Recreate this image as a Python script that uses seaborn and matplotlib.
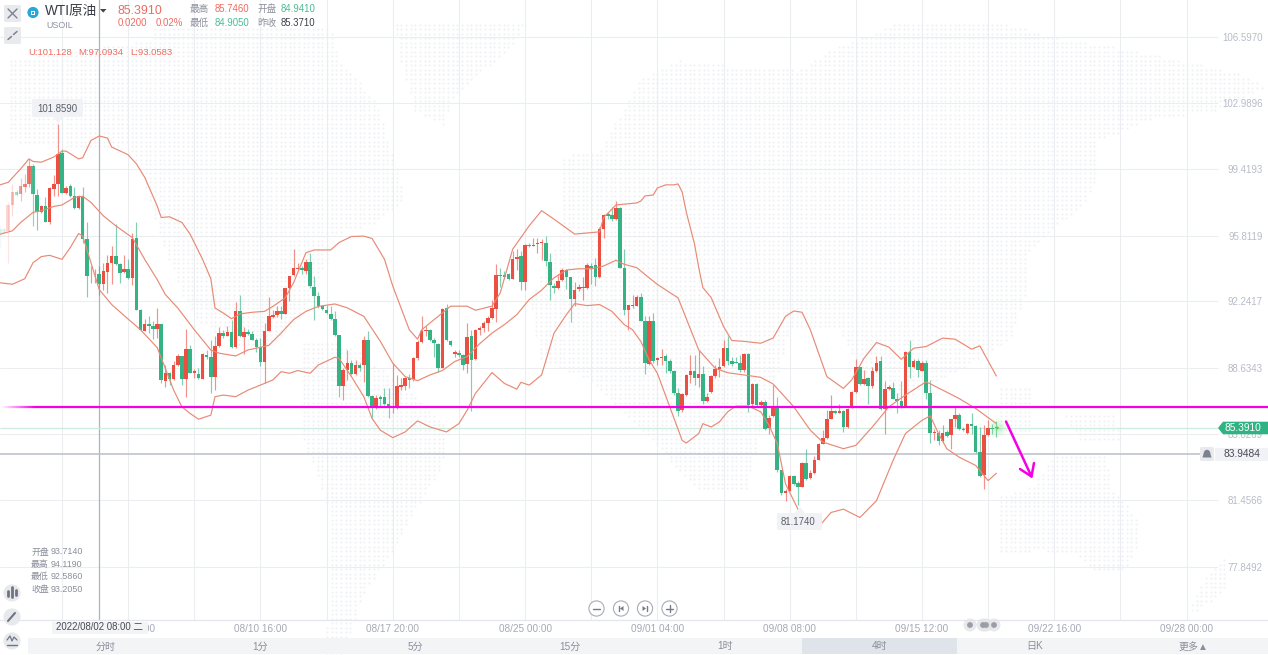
import numpy as np
import matplotlib
matplotlib.use("Agg")
import matplotlib.pyplot as plt
from matplotlib.path import Path
from matplotlib.patches import Polygon, Rectangle, Circle, FancyBboxPatch
from matplotlib.collections import LineCollection
import seaborn as sns

# ---------- data: 4h candles ----------
direction = ("ggrrgrrrgg" "rgrrrgrggr" "ggrrgrrrgg" "rgrggrggrg" "rgrrgrgrgr" "ggrrgrgrgr"
             "ggggrrrrgr" "rrrgrggggg" "gggrrgrgrg" "grgggrrrrg" "rrrrgggrgg" "rggrgrrrrr"
             "rgggrrgrgr" "rrgggrrggr" "rrrggrrggr" "ggrrrggrgr" "rggggrrrgr" "grrrrrgggg"
             "rgrgrgrrgg" "rrggrgrrrr" "rrgrgrrrgr" "grrgrrgggr" "grgrggrgrg" "rrggrgggrr" "gg")
body_top = [
 96.16,96.16,97.47,98.19,98.19,98.52,98.61,99.61,99.61,98.01,
 97.39,97.39,98.37,98.61,100.25,100.28,98.37,98.52,97.97,97.97,
 97.94,95.61,93.68,93.68,93.70,93.87,94.30,94.70,94.70,94.25,
 94.01,94.01,95.65,95.68,91.79,91.03,91.03,90.92,91.03,91.03,
 88.34,88.38,88.79,89.30,89.28,89.67,89.67,88.49,88.30,89.39,
 89.34,89.21,89.83,90.52,90.52,90.57,90.57,91.70,91.70,90.59,
 90.57,90.47,90.16,89.79,90.61,91.43,91.52,91.74,91.74,92.94,
 93.61,94.03,94.07,94.03,94.37,94.37,93.03,92.52,92.01,91.79,
 91.57,91.30,90.43,88.52,88.88,88.92,88.79,88.79,90.16,90.16,
 87.10,86.98,87.03,87.03,86.70,86.56,87.65,87.70,88.07,88.07,
 89.16,90.03,90.61,90.70,90.70,90.16,89.94,91.83,91.88,90.10,
 89.47,89.43,89.34,90.30,90.38,90.70,90.79,91.07,91.34,91.88,
 93.65,93.65,93.65,93.70,94.52,94.67,94.70,95.28,95.28,95.28,
 95.43,95.45,95.38,94.38,93.10,93.34,93.94,93.94,93.57,92.85,
 93.00,93.00,94.19,94.16,94.19,96.19,96.92,96.96,96.92,97.29,
 97.29,94.05,92.03,92.05,92.49,92.49,91.16,91.16,91.16,89.16,
 89.21,89.28,89.03,88.45,87.25,87.21,88.25,88.47,88.47,88.30,
 88.30,87.03,88.19,88.56,88.70,89.70,89.70,88.98,88.96,88.92,
 89.39,89.39,87.74,87.74,86.76,86.78,85.94,86.56,86.56,83.07,
 81.97,82.79,82.79,82.38,83.47,83.47,82.92,83.65,84.48,84.85,
 85.88,86.29,86.29,86.27,86.27,86.43,87.34,88.67,88.67,88.03,
 88.07,88.47,88.92,88.98,87.48,87.61,87.52,86.97,86.85,89.52,
 89.52,89.03,89.03,88.88,88.92,87.29,85.14,85.12,85.12,85.16,
 85.85,86.07,86.10,85.32,85.58,85.61,85.48,84.07,84.97,85.39,
 85.39,85.39]
body_bottom = [
 95.88,95.97,96.07,97.47,98.01,98.07,98.47,98.61,98.07,97.07,
 97.07,96.56,96.56,98.34,98.61,98.12,98.12,97.94,97.28,97.28,
 95.61,93.61,93.65,93.65,93.16,93.21,93.83,94.30,94.25,93.79,
 93.83,93.52,93.52,91.79,90.67,90.61,90.92,90.74,90.76,87.98,
 87.94,88.01,88.01,88.79,88.01,88.01,88.38,88.34,88.07,88.05,
 89.21,88.12,88.12,89.83,90.34,90.37,89.74,89.76,90.34,90.30,
 90.47,90.16,89.79,88.97,88.97,90.65,91.39,91.48,91.57,91.57,
 92.96,93.65,93.97,93.92,93.88,93.07,92.52,92.01,91.85,91.61,
 91.30,90.43,87.67,87.67,88.52,88.30,88.30,88.61,88.79,87.10,
 86.52,86.52,86.92,86.67,86.49,86.49,86.49,87.61,87.65,87.98,
 88.01,89.16,90.03,90.61,90.12,89.98,88.61,88.61,90.12,89.88,
 89.39,89.34,88.79,88.85,89.07,89.10,90.67,90.79,91.07,91.34,
 91.85,93.61,93.57,93.43,93.43,94.52,93.30,93.29,95.23,95.25,
 95.36,95.39,94.41,93.12,92.98,92.98,93.39,93.57,92.39,92.38,
 92.89,92.96,92.96,94.07,93.54,93.54,96.19,96.85,96.70,96.70,
 94.07,91.79,91.79,91.98,92.01,91.19,88.92,88.85,88.98,89.07,
 89.18,89.03,88.48,87.25,86.30,86.34,87.16,88.25,88.07,88.07,
 86.83,86.83,87.32,88.19,88.56,88.74,88.98,88.85,88.92,88.52,
 88.52,86.61,86.65,86.61,86.61,85.34,85.38,86.01,83.07,81.83,
 81.83,81.97,82.34,82.19,82.19,82.61,82.67,82.92,83.65,84.52,
 84.85,85.88,86.19,86.19,85.43,85.43,86.48,87.30,87.76,87.76,
 87.67,87.67,88.47,86.43,86.38,87.48,86.97,86.85,86.52,86.56,
 88.67,88.67,88.52,88.48,87.29,85.10,85.10,84.67,84.65,84.94,
 84.97,85.85,85.30,85.25,85.12,85.50,84.07,82.79,82.85,84.97,
 85.32,85.37]
high = [
 96.34,96.25,97.61,98.61,98.30,98.92,99.16,99.97,99.70,98.34,
 97.47,97.88,98.43,99.07,101.86,100.52,98.52,98.61,98.43,98.01,
 98.43,96.52,94.16,93.97,94.16,94.34,94.74,95.25,96.43,94.30,
 94.74,94.56,95.94,96.56,91.83,91.28,91.43,91.16,91.88,91.03,
 88.79,88.43,89.03,89.39,89.30,90.74,89.88,88.56,88.61,89.43,
 89.61,90.16,90.37,90.85,90.67,90.88,91.25,92.19,92.61,90.85,
 90.74,90.61,90.25,90.25,91.07,92.47,91.76,91.97,91.97,92.97,
 93.61,95.07,94.34,94.16,94.52,94.85,93.61,92.74,92.07,92.07,
 91.97,91.70,90.43,88.61,89.61,89.07,89.07,88.88,90.38,90.61,
 87.16,87.16,87.16,87.52,87.52,88.88,88.25,88.07,88.16,88.30,
 89.25,90.16,91.47,90.88,90.74,90.25,89.98,91.88,92.12,90.16,
 89.61,89.58,89.39,91.07,90.70,90.74,90.88,91.16,91.43,92.34,
 94.25,94.07,93.88,93.76,94.98,95.07,94.98,95.34,95.43,95.70,
 95.70,95.65,95.76,94.89,93.25,93.70,94.07,94.01,93.57,93.29,
 93.16,93.57,94.34,94.34,94.61,96.25,96.98,97.07,97.34,97.70,
 97.34,95.07,92.07,92.61,92.61,92.70,91.43,91.43,91.61,89.25,
 89.65,89.39,89.10,88.52,87.52,87.25,88.30,89.34,89.34,89.61,
 88.74,87.25,88.25,88.79,89.16,90.12,90.38,89.21,89.21,89.34,
 89.43,89.43,87.79,87.79,86.88,86.88,86.07,87.70,87.07,83.10,
 82.07,82.85,82.85,82.48,83.52,84.25,83.07,83.83,84.56,85.29,
 86.34,87.16,86.34,86.67,86.34,86.48,87.39,89.10,88.70,88.52,
 88.16,88.70,89.29,89.29,87.94,87.70,87.88,87.29,87.94,89.56,
 90.16,89.10,89.10,88.98,89.07,88.00,85.34,85.25,85.52,85.25,
 85.88,86.56,86.19,85.43,85.65,86.19,85.52,85.43,85.52,85.79,
 85.57,85.75]
low = [
 95.16,95.79,94.34,96.88,97.94,97.70,98.16,98.43,96.34,96.12,
 97.03,96.52,96.43,97.97,97.97,98.12,98.07,97.88,97.25,97.25,
 95.39,92.48,93.25,93.25,92.61,92.88,92.70,93.21,94.21,93.25,
 93.79,93.47,93.12,91.76,90.61,90.61,90.52,90.19,90.25,87.79,
 87.61,87.70,87.98,88.76,87.70,87.03,88.34,88.07,88.01,88.01,
 89.10,87.28,87.43,89.79,90.25,90.34,89.70,89.72,90.30,89.39,
 90.43,90.12,89.52,88.74,87.79,90.61,91.34,91.39,91.28,91.57,
 92.25,93.61,93.94,93.70,93.70,92.97,91.25,91.88,91.79,91.57,
 91.25,90.34,87.07,86.89,87.98,88.25,88.25,88.49,87.88,87.07,
 85.89,86.43,86.52,86.61,85.89,86.16,86.43,87.43,87.43,87.52,
 87.94,89.07,89.98,90.34,90.07,89.25,88.43,88.61,90.07,89.83,
 89.25,89.21,88.52,88.34,86.30,89.07,90.43,90.56,90.61,91.29,
 91.10,93.03,93.43,93.39,93.43,93.94,92.85,92.88,95.21,95.25,
 94.89,94.48,94.16,92.30,92.70,92.92,93.34,92.92,91.10,91.98,
 92.83,92.34,92.92,93.16,93.10,93.50,95.70,96.70,96.61,96.67,
 94.07,91.52,90.67,91.89,91.98,91.16,88.30,88.79,88.88,88.79,
 88.79,88.38,88.38,87.16,86.01,86.25,87.10,87.79,87.70,87.57,
 86.70,86.79,87.28,88.07,88.16,88.70,88.79,88.74,88.88,88.43,
 88.43,86.25,86.56,86.52,86.56,85.25,85.07,85.97,82.98,81.76,
 81.43,81.94,82.30,81.17,82.16,82.56,82.61,82.88,83.61,84.48,
 84.79,85.85,86.12,86.16,85.16,85.39,86.45,87.25,87.70,87.70,
 86.70,87.52,88.43,86.34,85.07,87.43,86.92,86.16,86.48,86.52,
 88.07,88.63,88.16,88.45,86.97,84.56,84.70,84.43,84.61,84.88,
 84.25,85.43,85.25,85.21,85.07,85.07,84.01,82.74,82.07,84.94,
 85.07,84.91]

upper_k = [0,2,5,7,8,10,13,15,16,19,20,22,24,26,27,30,31,33,35,38,39,41,44,46,49,51,52,54,56,58,61,64,66,69,71,72,74,76,80,
           82,85,88,90,93,95,99,101,102,104,106,109,113,115,119,121,124,128,131,134,139,145,146,149,
           154,155,156,158,159,161,163,164,165,166,168,169,170,172,175,177,180,184,187,190,192,194,196,200,204,206,209,212,215,218,221,224,228,231,235,237,241]
upper_band = [98.56,98.70,99.43,99.97,99.83,99.79,100.07,100.39,100.39,99.97,100.03,100.97,101.21,101.10,100.61,100.30,100.19,99.70,98.97,97.43,96.79,96.83,96.52,95.88,94.52,93.47,91.88,91.61,91.30,91.56,91.65,91.70,91.97,92.43,93.25,93.79,94.88,95.03,95.03,
              95.43,95.76,95.78,95.65,94.52,93.07,90.70,90.19,90.70,91.07,91.43,91.98,91.98,91.76,91.98,92.70,95.07,96.34,97.16,96.70,95.89,96.01,96.79,97.47,
              97.58,97.68,97.96,98.01,98.39,98.56,98.56,98.61,98.18,97.08,95.34,94.08,92.99,92.45,90.88,90.12,90.07,89.97,90.25,91.43,91.72,91.65,90.70,88.16,87.52,87.98,89.16,90.01,89.76,89.10,89.70,89.79,90.25,90.19,89.65,89.83,88.19]
middle_k = [0,3,5,8,10,13,15,18,20,22,25,28,32,35,38,40,43,47,51,53,57,60,62,65,68,71,74,77,81,
            84,88,92,95,98,101,104,107,110,113,116,119,122,125,128,131,134,137,140,143,146,149,151,154,156,159,
            164,169,173,176,180,184,187,192,196,199,204,207,211,215,219,224,228,232,236,241]
middle_band = [95.88,96.07,96.52,97.07,97.16,97.39,97.47,97.88,97.94,97.61,96.88,96.34,95.70,94.52,93.43,92.61,91.88,90.70,89.60,89.43,89.28,89.61,89.70,89.85,90.52,91.25,91.70,91.97,92.10,
               91.89,91.43,90.07,88.89,88.16,87.94,88.25,88.49,88.98,89.25,89.94,90.52,90.98,91.52,92.34,92.85,93.52,93.94,94.01,94.01,94.16,94.47,94.25,94.07,93.70,93.16,
               92.43,89.61,88.61,88.37,88.25,88.12,87.76,86.52,85.25,84.61,84.25,84.43,85.43,86.52,87.16,87.88,87.43,86.97,86.43,85.61]
lower_k = [0,3,6,8,10,12,15,17,19,20,22,24,27,31,34,38,40,42,44,46,48,51,52,54,57,60,63,66,68,70,72,75,77,81,
           82,85,88,90,92,95,98,101,104,108,111,113,115,119,122,125,126,128,131,134,137,139,142,145,148,151,153,155,157,159,
           162,165,166,169,170,172,174,176,178,181,184,186,188,190,193,195,198,201,204,208,212,216,219,223,225,227,229,232,236,239,241]
lower_band = [93.25,93.17,93.47,94.34,94.67,94.74,94.52,95.16,95.92,95.79,94.34,92.88,92.07,91.28,90.70,89.74,88.60,87.43,86.52,86.16,85.85,86.07,87.07,87.16,87.07,87.43,87.70,87.98,88.43,88.34,88.49,88.34,88.79,89.21,
              89.16,88.16,87.07,85.89,85.25,84.85,85.16,85.76,85.43,85.16,85.61,86.34,87.25,88.38,87.79,87.48,87.85,87.70,88.25,90.52,91.52,92.12,92.01,92.07,91.70,90.98,90.70,90.07,89.07,88.34,
              86.52,84.70,84.56,85.07,85.61,85.43,85.70,86.25,86.56,86.56,86.25,85.52,84.52,82.34,80.97,80.07,80.01,80.79,80.97,80.52,81.43,83.61,85.07,85.79,86.03,85.07,84.25,83.79,83.34,82.52,82.92]

price_ticks = [106.5970,102.9896,99.4193,95.8119,92.2417,88.6343,85.0269,81.4566,77.8492]
date_ticks = [31,63,95,127,159,191,223,255,287]
date_labels = ["08/03 12:00","08/10 16:00","08/17 20:00","08/25 00:00","09/01 04:00","09/08 08:00","09/15 12:00","09/22 16:00","09/28 00:00"]
trend_level = 86.51
last_price = 85.3910
alert_price = 83.9484
hover_k = 24

# ---------- style ----------
sns.set_theme(style="white")
plt.rcParams["font.family"] = ["Liberation Sans", "Noto Sans CJK SC", "DejaVu Sans"]
RED, GREEN = "#ea5042", "#35b384"
BAND = "#e88a75"
GRID = "#ebedf1"
TICK = "#b9bcc8"
MAG = "#f500e6"

W, H = 1268, 655
fig = plt.figure(figsize=(W/100, H/100), dpi=100, facecolor="white")

# ---------- faint dotted world map ----------
bg = fig.add_axes([0, 0, 1, 1], zorder=0)
bg.set_xlim(0, W); bg.set_ylim(H, 0); bg.axis("off")
shapes = [
 [(8,60),(150,40),(153,26),(330,26),(340,60),(375,100),(395,160),(405,200),(370,225),(328,235),(328,262),(315,285),(300,320),(270,345),(235,345),(197,320),(180,290),(157,225),(140,170),(128,145),(85,150),(8,140)],
 [(395,20),(525,20),(510,50),(470,80),(450,100),(445,125),(415,110),(400,60)],
 [(300,340),(350,345),(420,400),(450,430),(440,470),(415,510),(400,540),(360,600),(345,655),(325,655),(330,580),(330,510),(300,430)],
 [(830,50),(905,20),(995,20),(1052,37),(1132,50),(1239,73),(1265,87),(1218,110),(1145,120),(1095,143),(1098,177),(1081,207),(1056,227),(1026,253),(1026,290),(1010,340),(960,370),(900,400),(860,370),(840,330),(790,330),(770,400),(745,490),(700,490),(650,440),(590,380),(540,360),(530,300),(562,230),(562,157),(600,150),(640,80),(680,60),(725,65),(800,70)],
 [(1000,497),(1033,485),(1056,452),(1105,452),(1113,490),(1125,500),(1137,520),(1137,545),(1125,570),(1095,570),(1075,555),(1040,550),(1000,555)],
 [(1065,415),(1115,415),(1120,440),(1080,440)],
 [(1000,385),(1030,385),(1030,430),(1000,430)],
 [(1225,555),(1228,585),(1200,610),(1188,610),(1200,585)],
]
gx, gy = np.meshgrid(np.arange(1.5, W, 4.65), np.arange(2.0, H, 4.5))
pts = np.c_[gx.ravel(), gy.ravel()]
inside = np.zeros(len(pts), bool)
for s in shapes:
    inside |= Path(s).contains_points(pts)
bg.scatter(pts[inside, 0], pts[inside, 1], s=2.4, color="#f0f1f5", linewidths=0)

# ---------- main price axes ----------
ax = fig.add_axes([0, 35/H, 1, 620/H], zorder=1)
ax.patch.set_alpha(0)
px_per_k = 66.15/16
k = np.arange(len(body_top))
ax.set_xlim(0, W/px_per_k)
ax.set_ylim(106.597-(620-36.7)*0.054241, 106.597+36.7*0.054241)
for s in ["top", "left", "right"]:
    ax.spines[s].set_visible(False)
ax.spines["bottom"].set_color("#e4e6eb"); ax.spines["bottom"].set_linewidth(0.9)

ax.set_xticks(date_ticks); ax.set_xticklabels(date_labels)
ax.set_xticks([t+16 for t in date_ticks[:-1]] + [15], minor=True)
ax.tick_params(axis="x", which="both", length=0, labelsize=7.2, labelcolor="#a6a9b5", pad=3)
ax.grid(False)
ax.grid(axis="x", which="both", color=GRID, lw=0.8)
ax.set_axisbelow(True)

ax.yaxis.tick_right()
ax.set_yticks(price_ticks)
ax.set_yticklabels([f"{p:.4f}" for p in price_ticks])
ax.tick_params(axis="y", length=0, labelsize=7, labelcolor=TICK, pad=-3.8)
for lab in ax.get_yticklabels():
    lab.set_ha("right")
ax.hlines(price_ticks, 0, 1218/px_per_k, color=GRID, lw=0.8, zorder=0.5)

# hover line, price lines
ax.axvline(hover_k, color="#aeb1bf", lw=0.9, zorder=1)
ax.hlines(last_price, 0, 1218/px_per_k, color="#cfeade", lw=0.9, zorder=1)
ax.hlines(alert_price, 0, 1200/px_per_k, color="#bcbeca", lw=1.1, zorder=1)

# candles
fade = np.clip(k*px_per_k/37, 0.12, 1)
base = {"r": matplotlib.colors.to_rgb(RED), "g": matplotlib.colors.to_rgb(GREEN)}
body_cols = [(*base[d], a) for d, a in zip(direction, fade)]
wick_cols = [(*base[d], a*0.62) for d, a in zip(direction, fade)]
ax.vlines(k, low, high, colors=wick_cols, lw=0.85, zorder=2)
heights = np.maximum(np.array(body_top)-np.array(body_bottom), 0.045)
ax.bar(k, heights, bottom=body_bottom, width=0.86, color=body_cols, linewidth=0, zorder=3)

# Bollinger bands
for xs, ys in [(upper_k, upper_band), (middle_k, middle_band), (lower_k, lower_band)]:
    sns.lineplot(x=xs, y=ys, ax=ax, color=BAND, lw=0.85, estimator=None, sort=False, legend=False, zorder=4)
ax.set_xlabel(""); ax.set_ylabel("")

# horizontal drawn level, fading on the left
xs = np.linspace(0, 34/px_per_k, 18)
segs = [[(a, trend_level), (b, trend_level)] for a, b in zip(xs[:-1], xs[1:])]
rgb = matplotlib.colors.to_rgb(MAG)
ax.add_collection(LineCollection(segs, colors=[(*rgb, i/17) for i in range(17)], lw=1.6, zorder=5))
ax.hlines(trend_level, xs[-1], W/px_per_k, color=MAG, lw=1.6, zorder=5)

# ---------- overlay: interface ----------
ov = fig.add_axes([0, 0, 1, 1], zorder=3)
ov.set_xlim(0, W); ov.set_ylim(H, 0); ov.axis("off"); ov.patch.set_alpha(0)

def txt(x, y, s, color, size=6.9, ha="left", **kw):
    ov.text(x, y, s, color=color, fontsize=size, ha=ha, va="center", **kw)

def rbox(x0, y0, x1, y1, fc, r=1.5, z=2):
    ov.add_patch(FancyBboxPatch((x0+r, y0+r), x1-x0-2*r, y1-y0-2*r, boxstyle=f"round,pad={r}",
                                fc=fc, ec="none", zorder=z))

HRED, HGREEN = "#ee6b5f", "#49bd91"
# top-left buttons
rbox(4, 5, 21, 22, "#e8eaee")
ov.plot([8, 17], [9, 18], color="#7c818e", lw=1); ov.plot([17, 8], [9, 18], color="#7c818e", lw=1)
rbox(4, 27, 21, 44, "#e8eaee")
ov.plot([8, 11.5], [39.5, 36.5], color="#7c818e", lw=1.1); ov.plot([13.5, 17], [34.5, 31.5], color="#7c818e", lw=1.1)
# logo
ov.add_patch(Circle((33, 12.5), 5.6, fc="#29a7d8", ec="none"))
ov.add_patch(Rectangle((31, 10.5), 4, 4, fc="white", ec="none"))
ov.add_patch(Rectangle((32, 11.5), 2, 2, fc="#29a7d8", ec="none"))
txt(45, 11.3, "WTI原油", "#383b45", 9.8)
ov.add_patch(Polygon([(100, 9), (106.5, 9), (103.2, 12.6)], fc="#444", ec="none"))
txt(46, 26, "USOIL", "#8d919e", 6.4)
txt(118, 10.5, "85.3910", HRED, 8.9)
txt(118, 23, "0.0200", HRED, 6.9)
txt(156, 23, "0.02%", HRED, 6.9)
for x, y, s, c in [(190, 9, "最高", "#8d919e"), (215, 9, "85.7460", HRED), (257, 9, "开盘", "#8d919e"), (281, 9, "84.9410", HGREEN),
                   (190, 23, "最低", "#8d919e"), (215, 23, "84.9050", HGREEN), (257, 23, "昨收", "#8d919e"), (281, 23, "85.3710", "#3c3f49")]:
    txt(x, y, s, c, 6.9)
for x, s in [(28, "U:101.128"), (78, "M:97.0934"), (130, "L:93.0583")]:
    txt(x, 52.5, s, HRED, 6.8)

# extreme labels
rbox(32, 99, 83, 117, "#f0f2f5")
ov.add_patch(Polygon([(53, 117), (63, 117), (58, 123)], fc="#f0f2f5", ec="none", zorder=2))
txt(57.5, 108.5, "101.8590", "#5a5d68", 6.9, ha="center", zorder=3)
rbox(777, 513, 822, 530, "#f0f2f5")
ov.add_patch(Polygon([(795, 513), (805, 513), (800, 507)], fc="#f0f2f5", ec="none", zorder=2))
txt(798, 522, "81.1740", "#5a5d68", 6.9, ha="center", zorder=3)

# hovered candle values
for y, a, b in [(552, "开盘", "93.7140"), (564.5, "最高", "94.1190"), (576.8, "最低", "92.5860"), (589.4, "收盘", "93.2050")]:
    txt(31, y, a, "#8a8e9b", 6.4); txt(51, y, b, "#8a8e9b", 6.4)

# left tools
for y in [593, 617, 641]:
    ov.add_patch(Circle((12, y), 8.6, fc="#e7e9ed", ec="none", zorder=2))
for dx, y0, y1 in [(-4, 591, 596), (0, 587, 597), (4, 590, 595)]:
    ov.plot([12+dx, 12+dx], [y0, y1], color="#6f7482", lw=2, zorder=3, solid_capstyle="round")
ov.plot([8, 15], [621, 613], color="#6f7482", lw=1.5, zorder=3)
ov.plot([7, 10, 12, 14, 17], [640, 636, 641, 637, 640], color="#6f7482", lw=0.9, zorder=3)
ov.plot([7, 17], [645, 645], color="#6f7482", lw=1, zorder=3)

# crosshair date
ov.add_patch(Rectangle((52, 621.5), 96, 12, fc="#f3f4f6", ec="none", zorder=2))
txt(100, 627.3, "2022/08/02 08:00 二", "#484b55", 6.9, ha="center", zorder=3)

# zoom controls
for x in [596.5, 621, 645, 669.5]:
    ov.add_patch(Circle((x, 608.5), 7.6, fc="white", ec="#a9acb6", lw=0.8, zorder=2))
ov.plot([593, 600], [608.5, 608.5], color="#777b87", lw=1, zorder=3)
ov.plot([666, 673], [608.5, 608.5], color="#777b87", lw=1, zorder=3)
ov.plot([669.5, 669.5], [605, 612], color="#777b87", lw=1, zorder=3)
ov.add_patch(Polygon([(623.5, 606), (623.5, 611), (620, 608.5)], fc="#777b87", ec="none", zorder=3))
ov.plot([619, 619], [606, 611], color="#777b87", lw=1, zorder=3)
ov.add_patch(Polygon([(642.5, 606), (642.5, 611), (646, 608.5)], fc="#777b87", ec="none", zorder=3))
ov.plot([647, 647], [606, 611], color="#777b87", lw=1, zorder=3)

# period tabs
ov.add_patch(Rectangle((28, 638), W-28, 16, fc="#f3f4f6", ec="none", zorder=2))
ov.add_patch(FancyBboxPatch((803, 639), 153, 14, boxstyle="round,pad=1", fc="#dfe3ea", ec="none", zorder=2))
for x, s in [(105.5, "分时"), (260, "1分"), (415, "5分"), (570, "15分"), (725, "1时"), (880, "4时"), (1035, "日K"), (1193, "更多▲")]:
    txt(x, 646.5, s, "#8a8e9b", 7.2, ha="center", zorder=3)

# scroll markers under the chart
for x in [970, 983, 986, 994]:
    ov.add_patch(Circle((x, 625), 6.5, fc="#e3e4e7", ec="none", alpha=0.8, zorder=2))
for x in [970, 983, 986, 994]:
    ov.add_patch(Circle((x, 625), 2.9, fc="#9b9ea6", ec="none", zorder=3))

# right-hand tags
ov.add_patch(Polygon([(1218, 428), (1223, 421.7), (1268, 421.7), (1268, 434.3), (1223, 434.3)], fc="#2fb383", ec="none", zorder=3))
txt(1243, 428, "85.3910", "white", 7.3, ha="center", zorder=4)
rbox(1200, 447, 1214, 461, "#e8eaee")
ov.add_patch(Circle((1207, 453), 3.2, fc="#7d8291", ec="none", zorder=3))
ov.add_patch(Polygon([(1203.8, 453), (1210.2, 453), (1211.5, 457.5), (1202.5, 457.5)], fc="#7d8291", ec="none", zorder=3))
ov.add_patch(Rectangle((1215, 447.5), 53, 13.5, fc="#f0f2f5", ec="none", zorder=2))
txt(1242, 454, "83.9484", "#484b55", 7.3, ha="center", zorder=3)

# glow at last price
for r, a in [(10, 0.05), (8, 0.07), (6, 0.10), (4, 0.14)]:
    ov.add_patch(Circle((997.5, 428), r, fc="#7fe07f", ec="none", alpha=a, zorder=2))
ov.add_patch(Circle((997.5, 428), 1.4, fc="#56d056", ec="none", zorder=3))

# hand-drawn arrow
ov.plot([1006, 1031.5], [421.5, 476.5], color=MAG, lw=1.8, zorder=5, solid_capstyle="round")
ov.plot([1020, 1031.5, 1034], [469, 476.5, 463], color=MAG, lw=1.8, zorder=5, solid_capstyle="round", solid_joinstyle="round")

fig.savefig("out.png", dpi=100)
